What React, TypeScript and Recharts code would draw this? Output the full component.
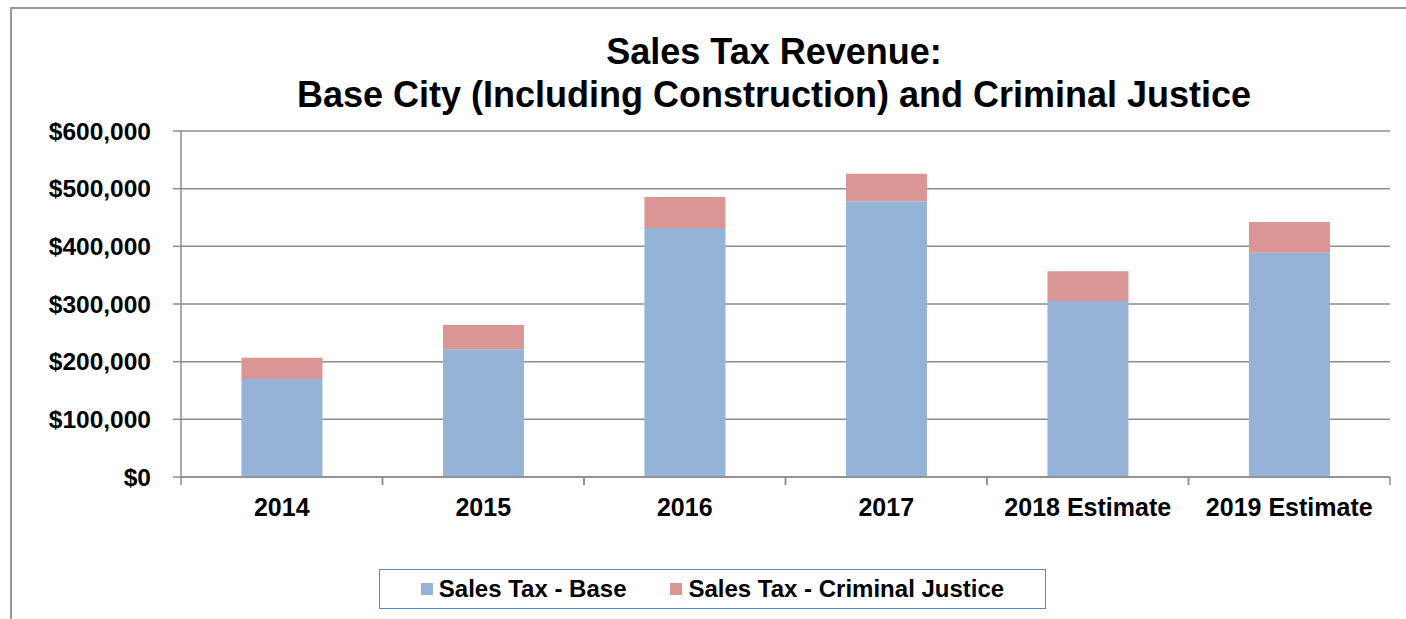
import React from "react";
import { Bar, BarChart, CartesianGrid, Legend, XAxis, YAxis } from "recharts";

const categories = ["2014", "2015", "2016", "2017", "2018 Estimate", "2019 Estimate"];
const baseValues = [170000, 221500, 432000, 478000, 305000, 389000];
const justiceValues = [37000, 42000, 53500, 48000, 52000, 53000];
const yTicks = [0, 100000, 200000, 300000, 400000, 500000, 600000];

const data = categories.map((label, i) => ({
  label,
  base: baseValues[i],
  justice: justiceValues[i],
}));

const FONT = "'Liberation Sans', Arial, sans-serif";
const GRID = "#8c8c8c";

const money = (v: number) => "$" + v.toLocaleString("en-US");

function CategoryTick(props: any) {
  const { x, y, payload } = props;
  const half = payload.offset ?? 0;
  return (
    <g>
      <line x1={x - half} x2={x - half} y1={y - 8} y2={y} stroke={GRID} strokeWidth={1.5} />
      <line x1={x + half} x2={x + half} y1={y - 8} y2={y} stroke={GRID} strokeWidth={1.5} />
      <text x={x} y={y + 22} dy="0.35em" textAnchor="middle" fontFamily={FONT} fontWeight="bold" fontSize={25} fill="#000">
        {payload.value}
      </text>
    </g>
  );
}

function LegendBox() {
  const items = [
    { name: "Sales Tax - Base", color: "#95b3d7" },
    { name: "Sales Tax - Criminal Justice", color: "#d99694" },
  ];
  return (
    <div
      style={{
        width: 665,
        height: 38,
        border: "1.5px solid #5b87c5",
        display: "flex",
        alignItems: "center",
        justifyContent: "center",
        gap: 44,
        fontFamily: FONT,
        fontWeight: "bold",
        fontSize: 24,
        color: "#000",
        boxSizing: "content-box",
      }}
    >
      {items.map((it) => (
        <span key={it.name} style={{ display: "flex", alignItems: "center" }}>
          <span style={{ width: 12, height: 12, background: it.color, marginRight: 6, display: "inline-block" }} />
          {it.name}
        </span>
      ))}
    </div>
  );
}

export default function App() {
  return (
    <div style={{ position: "absolute", left: 0, top: 0, width: 1406, height: 619, background: "#fff", overflow: "hidden" }}>
      <div
        style={{
          position: "absolute",
          left: 10,
          top: 7,
          width: 1500,
          height: 700,
          borderLeft: "2px solid #999",
          borderTop: "2px solid #999",
        }}
      />
      <div
        style={{
          position: "absolute",
          left: 0,
          width: 1548,
          top: 30,
          textAlign: "center",
          fontFamily: FONT,
          fontWeight: "bold",
          fontSize: 36,
          lineHeight: "43px",
          color: "#000",
        }}
      >
        Sales Tax Revenue:
        <br />
        Base City (Including Construction) and Criminal Justice
      </div>
      <div style={{ position: "absolute", left: 0, top: 0 }}>
        <BarChart
          width={1406}
          height={619}
          data={data}
          barCategoryGap="30%"
          margin={{ top: 131, right: 16, bottom: 102, left: 51 }}
        >
          <CartesianGrid vertical={false} stroke={GRID} strokeWidth={1.5} />
          <XAxis
            dataKey="label"
            axisLine={{ stroke: GRID, strokeWidth: 1.5 }}
            tickLine={false}
            tickSize={8}
            tickMargin={0}
            height={40}
            interval={0}
            tick={<CategoryTick />}
          />
          <YAxis
            width={130}
            domain={[0, 600000]}
            ticks={yTicks}
            tickFormatter={money}
            axisLine={{ stroke: GRID, strokeWidth: 1.5 }}
            tickLine={{ stroke: GRID, strokeWidth: 1.5 }}
            tickSize={8}
            tickMargin={22}
            tick={{ fontFamily: FONT, fontWeight: "bold", fontSize: 24.5, fill: "#000" }}
          />
          <Legend
            layout="horizontal"
            verticalAlign="middle"
            align="center"
            content={<LegendBox />}
            wrapperStyle={{ top: 569, left: 379, width: 670 }}
          />
          <Bar dataKey="base" name="Sales Tax - Base" stackId="a" fill="#95b3d7" isAnimationActive={false} />
          <Bar dataKey="justice" name="Sales Tax - Criminal Justice" stackId="a" fill="#d99694" isAnimationActive={false} />
        </BarChart>
      </div>
    </div>
  );
}
